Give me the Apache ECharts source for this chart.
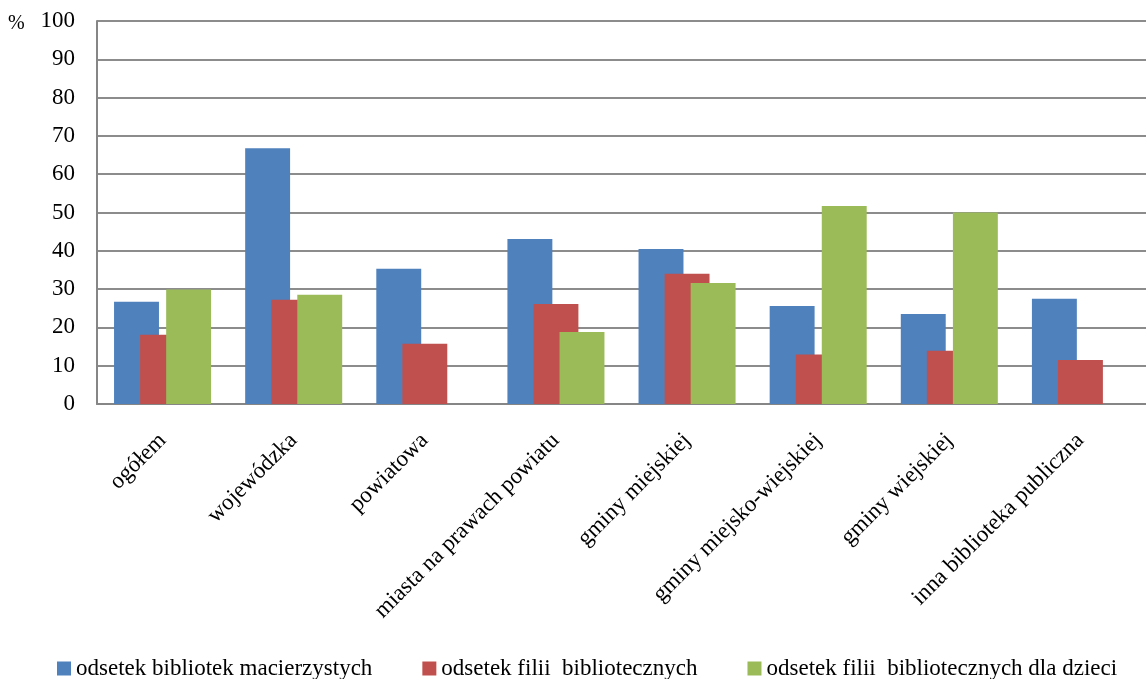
<!DOCTYPE html>
<html>
<head>
<meta charset="utf-8">
<script src="https://cdn.jsdelivr.net/npm/echarts@6/dist/echarts.min.js"></script>
<style>
html,body{margin:0;padding:0;background:#fff;}
#c{width:1146px;height:679px;}
</style>
</head>
<body>
<div id="c"></div>
<script>
const categories = ['ogółem','wojewódzka','powiatowa','miasta na prawach powiatu','gminy miejskiej','gminy miejsko-wiejskiej','gminy wiejskiej','inna biblioteka publiczna'];
const seriesNames = ['odsetek bibliotek macierzystych','odsetek filii  bibliotecznych','odsetek filii  bibliotecznych dla dzieci'];
const macierzyste = [26.7, 66.8, 35.3, 43.1, 40.5, 25.6, 23.5, 27.5];
const filie = [18.1, 27.2, 15.7, 26.1, 34.0, 12.9, 13.9, 11.5];
const filieDzieci = [29.9, 28.5, 0, 18.8, 31.6, 51.7, 50.0, 0];
const yTicks = [0,10,20,30,40,50,60,70,80,90,100];

const colors = ['#4F81BD','#C0504D','#9BBB59'];
const font = '"Liberation Serif", "Times New Roman", serif';
const chart = echarts.init(document.getElementById('c'));
const mk = (name, data, color) => ({
  name, type:'bar', data, barGap:'-42%', barCategoryGap:'26%',
  itemStyle:{color}, emphasis:{disabled:true}, animation:false
});
chart.setOption({
  animation:false,
  color: colors,
  grid:{left:97, right:-4, top:21, bottom:275, containLabel:false},
  legend:{
    left:57, top:657, padding:0, itemWidth:14, itemHeight:14, itemGap:50,
    icon:'rect',
    textStyle:{fontFamily:font, fontSize:23, color:'#000'},
    data: seriesNames
  },
  graphic:[{type:'text', left:8, top:14, style:{text:'%', font:'20px '+font, fill:'#000'}}],
  xAxis:{
    type:'category', data:categories,
    axisLine:{lineStyle:{color:'#868686', width:2}},
    axisTick:{show:false},
    axisLabel:{rotate:45, interval:0, margin:33, fontFamily:font, fontSize:23, color:'#000'}
  },
  yAxis:{
    type:'value', min:yTicks[0], max:yTicks[yTicks.length-1], interval:10,
    axisLine:{show:true, lineStyle:{color:'#868686', width:2}},
    axisTick:{show:false},
    splitLine:{lineStyle:{color:'#8c8c8c', width:2}},
    axisLabel:{margin:22, fontFamily:font, fontSize:23, color:'#000'}
  },
  series:[
    mk(seriesNames[0], macierzyste, colors[0]),
    mk(seriesNames[1], filie, colors[1]),
    mk(seriesNames[2], filieDzieci, colors[2])
  ]
});
</script>
</body>
</html>
